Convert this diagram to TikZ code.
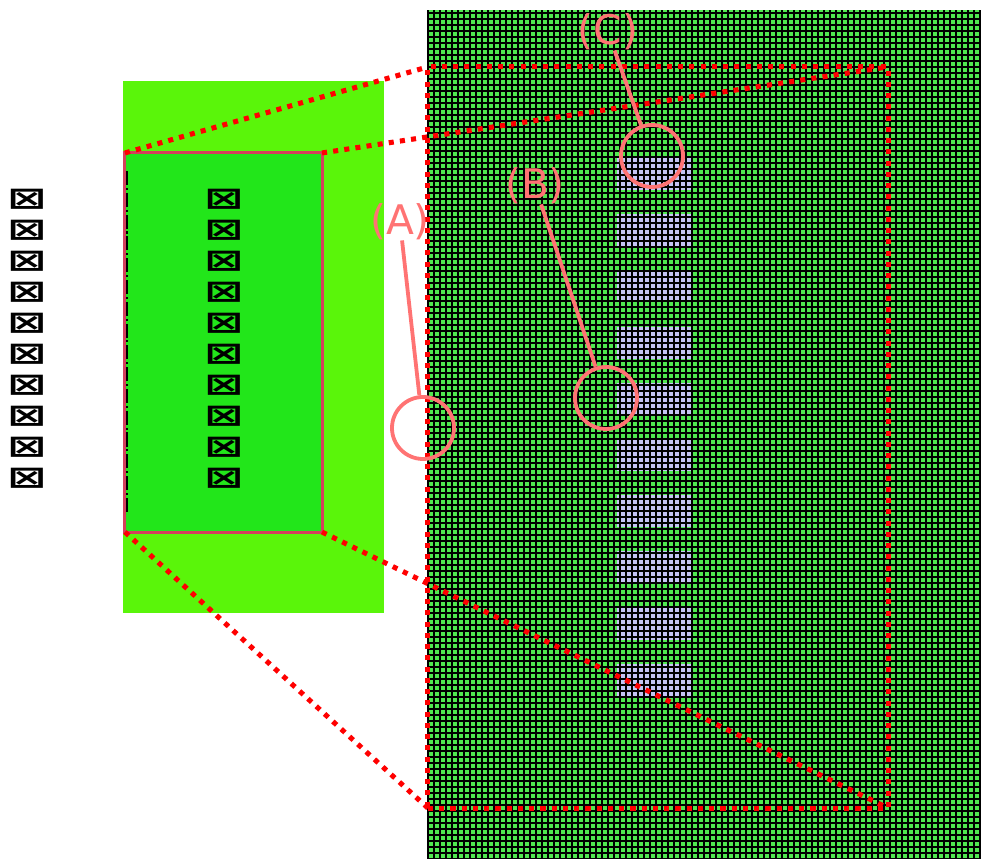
\documentclass[tikz,border=0pt]{standalone}
\usepackage{fontspec}
\setmainfont{DejaVu Sans}
\definecolor{gridgreen}{HTML}{50E850}
\definecolor{limegreen}{HTML}{5AF50A}
\definecolor{leafgreen}{HTML}{22E61A}
\definecolor{lavender}{HTML}{C4C4F4}
\definecolor{salmon}{HTML}{FF7373}
\definecolor{rimred}{HTML}{D4405C}
\usetikzlibrary{calc}

\begin{document}
\begin{tikzpicture}[x=0.025cm, y=0.025cm,
  zoomline/.style={red, line width=3.6pt, dash pattern=on 3.6pt off 4.4pt},
  callout/.style={salmon, line width=2.7pt},
  ring/.style={draw=salmon, line width=2.7pt, circle, minimum size=44.1pt, inner sep=0pt},
  tag/.style={text=salmon, font=\fontsize{29}{29}\selectfont, inner sep=0pt},
  glyphs/.style={align=center, font=\bfseries\fontsize{19}{22.05}\selectfont, inner sep=0pt}]
  \useasboundingbox (0,0) rectangle (981,859);
  \newcommand\tofu{\scalebox{1.75}[1.1]{⊠}}

  % overview map
  \fill[limegreen] (123,246) rectangle (384,778);
  \node[draw=rimred, line width=2.1pt, fill=leafgreen, minimum width=140.13pt,
    minimum height=269.59pt, inner sep=0pt, outer sep=0pt] (inner) at (223.5,516.5) {};
  \draw[black, line width=1.6pt, dash pattern=on 10pt off 2pt on 1.5pt off 2pt]
    ($(inner.north west)+(2,-18)$) -- ($(inner.south west)+(2,20)$);
  \node[glyphs] (leftcol) at (27,520) {\tofu\\\tofu\\\tofu\\\tofu\\\tofu\\\tofu\\\tofu\\\tofu\\\tofu\\\tofu};
  \node[glyphs] (innercol) at (224,520) {\tofu\\\tofu\\\tofu\\\tofu\\\tofu\\\tofu\\\tofu\\\tofu\\\tofu\\\tofu};

  % detail grid
  \fill[gridgreen] (428,0) rectangle (981,849);
  \foreach \i in {0,...,9}
    \fill[lavender] (617,{701-56.2*\i}) rectangle (691,{669-56.2*\i});
  \begin{scope}[shift={(428,0)}]
    \draw[black, line width=1pt, step={(6,6)}] (0,0) grid (553,849);
  \end{scope}

  % zoom frame
  \node[zoomline, draw, minimum width=327.2pt, minimum height=527.1pt,
    inner sep=0pt, outer sep=0pt] (frame) at (658,421.5) {};
  \draw[zoomline] (inner.north west) -- (frame.north west);
  \draw[zoomline] (inner.north east) -- (frame.north east);
  \draw[zoomline] (inner.south west) -- (frame.south west);
  \draw[zoomline] (inner.south east) -- (frame.south east);

  % callouts
  \node[ring] (ringA) at (423,431) {};
  \node[ring] (ringB) at (606,461) {};
  \node[ring] (ringC) at (652,703) {};
  \node[tag] (tagA) at (400,637) {(A)};
  \node[tag] (tagB) at (535,673) {(B)};
  \node[tag] (tagC) at (608,827) {(C)};
  \draw[callout] (tagA) -- (ringA);
  \draw[callout] (tagB) -- (ringB);
  \draw[callout] (tagC) -- (ringC);
\end{tikzpicture}
\end{document}
